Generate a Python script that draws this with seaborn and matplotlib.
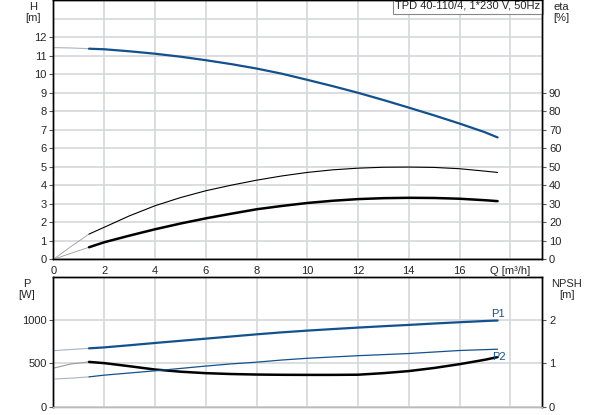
import matplotlib
matplotlib.use('Agg')
import matplotlib.pyplot as plt
import numpy as np
import seaborn as sns

# flow points [m3/h]
q = np.array([0, 0.7, 1.4, 2, 3, 4, 5, 6, 7, 8, 9, 10, 11, 12, 13, 14, 15, 16, 17, 17.5])
# head [m]
head = np.array([11.43, 11.41, 11.37, 11.34, 11.23, 11.1, 10.94, 10.75, 10.54, 10.3,
                 10.02, 9.69, 9.35, 8.99, 8.6, 8.19, 7.77, 7.33, 6.86, 6.58])
# efficiencies [%]
eta_upper = np.array([0, 7.0, 13.6, 17.3, 23.5, 28.9, 33.3, 37.0, 40.0, 42.7,
                      45.0, 46.9, 48.3, 49.2, 49.7, 49.8, 49.6, 48.9, 47.6, 46.9])
eta_lower = np.array([0, 3.3, 6.5, 9.2, 12.8, 16.2, 19.3, 22.1, 24.6, 27.0,
                      28.8, 30.4, 31.6, 32.5, 33.0, 33.2, 33.1, 32.7, 31.9, 31.4])
# power [W]
p1 = np.array([648, 662, 675, 686, 711, 737, 762, 787, 812, 837,
               860, 880, 898, 915, 931, 946, 962, 977, 991, 997])
p2 = np.array([446, 495, 518, 504, 468, 430, 405, 388, 378, 372,
               369, 368, 368, 370, 388, 412, 448, 492, 543, 574])
# NPSH [m]
npsh = np.array([0.64, 0.66, 0.69, 0.73, 0.78, 0.83, 0.885, 0.94, 0.99, 1.03,
                 1.08, 1.12, 1.15, 1.18, 1.205, 1.23, 1.265, 1.30, 1.32, 1.33])

q_start = 1.4
title = 'TPD 40-110/4, 1*230 V, 50Hz'

blue = '#13518e'
light_blue = '#a7b3c6'
grey = '#9a9a9a'
grid_c = '#d5d7da'
fs = 8

sns.set_style('white')
plt.rcParams['font.family'] = ['Liberation Sans', 'DejaVu Sans']
plt.rcParams['font.size'] = fs

fig = plt.figure(figsize=(5.93, 4.15), dpi=100)
ax = fig.add_axes([0.0902, 0.3752, 0.8238, 0.6248])
ax_eta = ax.twinx()
axp = fig.add_axes([0.0902, 0.02, 0.8238, 0.3125])
ax_npsh = axp.twinx()

early = q <= q_start
late = q >= q_start


def curve(a, y, lw, col, col0, lw0=0.8):
    sns.lineplot(x=q[early], y=y[early], ax=a, color=col0, lw=lw0, legend=False)
    sns.lineplot(x=q[late], y=y[late], ax=a, color=col, lw=lw, legend=False)


curve(ax, head, 1.6, blue, light_blue)
curve(ax_eta, eta_upper, 0.8, 'black', grey, 0.6)
curve(ax_eta, eta_lower, 1.8, 'black', grey, 0.6)
curve(axp, p1, 1.6, blue, light_blue)
curve(axp, p2, 1.8, 'black', grey)
curve(ax_npsh, npsh, 0.9, blue, light_blue)

for a in (ax, ax_eta, axp, ax_npsh):
    a.set_xlim(0, 19.25)
    a.set_xlabel('')
    a.set_ylabel('')
    for s in a.spines.values():
        s.set_color('black')
        s.set_linewidth(1.0)

# top panel axes
ax.set_ylim(0, 14)
ax_eta.set_ylim(0, 140)
ax.set_yticks(range(13))
ax.set_yticks([13, 14], minor=True)
ax.set_xticks(range(0, 20, 2), labels=[str(v) for v in range(0, 18, 2)] + ['Q [m³/h]'])
ax_eta.set_yticks(range(0, 100, 10))
ax.grid(True, which='both', color=grid_c, lw=1.2)
ax.set_axisbelow(True)
ax.tick_params(axis='both', which='major', length=3, width=0.8, color='#555555', pad=2)
ax.tick_params(axis='y', which='minor', length=0)
ax_eta.tick_params(axis='y', length=3, width=0.8, color='#555555', pad=2)

# bottom panel axes
axp.set_ylim(0, 1500)
ax_npsh.set_ylim(0, 3)
axp.set_yticks([0, 500, 1000])
axp.set_xticks(range(0, 20, 2), labels=[])
ax_npsh.set_yticks([0, 1, 2])
axp.grid(True, color=grid_c, lw=1.2)
axp.set_axisbelow(True)
axp.tick_params(axis='y', length=3, width=0.8, color='#555555', pad=2)
axp.tick_params(axis='x', length=0)
ax_npsh.tick_params(axis='y', length=3, width=0.8, color='#555555', pad=2)
axp.spines['bottom'].set_color('#bbbbbb')
ax_npsh.spines['bottom'].set_color('#bbbbbb')

# curve labels
axp.text(q[-1], p1[-1] + 15, 'P1', color=blue, ha='center', va='bottom', fontsize=fs)
axp.text(q[-1] + 0.05, p2[-1], 'P2', color=blue, ha='center', va='center', fontsize=fs)

# title box
ax.text(0.997, 0.997, title, transform=ax.transAxes, ha='right', va='top', fontsize=fs,
        bbox=dict(facecolor='white', edgecolor='#888888', boxstyle='square,pad=0.25', lw=0.8))

# axis captions
fig.text(33 / 593, 1 - 2 / 415, 'H\n[m]', ha='center', va='top', fontsize=fs, linespacing=1.15)
fig.text(561 / 593, 1 - 2 / 415, 'eta\n[%]', ha='center', va='top', fontsize=fs, linespacing=1.15)
fig.text(27 / 593, 1 - 279 / 415, 'P\n[W]', ha='center', va='top', fontsize=fs, linespacing=1.15)
fig.text(567 / 593, 1 - 279 / 415, 'NPSH\n[m]', ha='center', va='top', fontsize=fs, linespacing=1.15)

fig.savefig('out.png', dpi=100)
